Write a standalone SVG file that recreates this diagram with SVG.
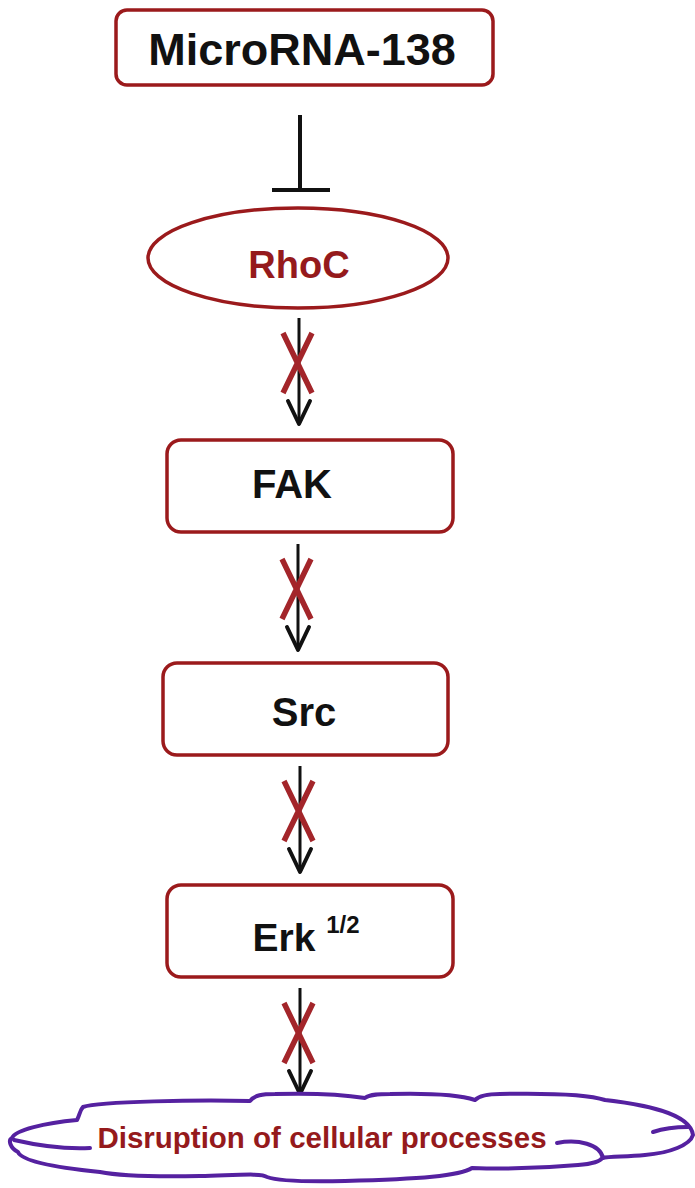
<svg xmlns="http://www.w3.org/2000/svg" width="695" height="1188" viewBox="0 0 695 1188">
  <style>
    .box { fill: #ffffff; stroke: #9b1a1c; stroke-width: 3.5; }
    .lbl { font-family: "Liberation Sans", Arial, sans-serif; font-weight: bold; text-anchor: middle; fill: #111111; }
    .red { fill: #951a1c; }
    .link { stroke: #111111; stroke-width: 3; fill: none; }
    .head { stroke: #111111; stroke-width: 4; fill: none; stroke-linecap: round; stroke-linejoin: round; }
    .cross { stroke: #a3252a; stroke-width: 5.5; fill: none; }
    .cloud { fill: #ffffff; stroke: #5521a0; stroke-width: 4; stroke-linecap: round; stroke-linejoin: round; }
  </style>
  <defs>
    <!-- blocked activation: arrow shaft with a red cross and open arrowhead -->
    <g id="blocked">
      <line class="link" x1="0" y1="0" x2="0" y2="104"/>
      <path class="head" d="M -11,83 L 0,106 L 11,83"/>
      <path class="cross" d="M -16,15 L 13,75 M 13,15 L -16,75"/>
    </g>
  </defs>

  <rect width="695" height="1188" fill="#ffffff"/>

  <g id="connectors">
    <!-- inhibition of RhoC by MicroRNA-138 -->
    <line x1="300" y1="115" x2="300" y2="190" stroke="#111111" stroke-width="4"/>
    <line x1="272" y1="190" x2="330" y2="190" stroke="#111111" stroke-width="4"/>
    <use href="#blocked" x="299" y="318"/>
    <use href="#blocked" x="298" y="544"/>
    <use href="#blocked" x="300" y="766"/>
    <use href="#blocked" x="300" y="988"/>
  </g>

  <g id="microrna138">
    <rect class="box" x="116" y="10" width="377" height="75" rx="11"/>
    <text class="lbl" x="302" y="65" font-size="45">MicroRNA-138</text>
  </g>

  <g id="rhoc">
    <ellipse class="box" cx="298" cy="258" rx="150" ry="50"/>
    <text class="lbl red" x="299" y="278" font-size="38">RhoC</text>
  </g>

  <g id="fak">
    <rect class="box" x="167" y="440" width="286" height="92" rx="14"/>
    <text class="lbl" x="292" y="498" font-size="40">FAK</text>
  </g>

  <g id="src">
    <rect class="box" x="163" y="663" width="285" height="92" rx="14"/>
    <text class="lbl" x="304" y="726" font-size="40">Src</text>
  </g>

  <g id="erk12">
    <rect class="box" x="167" y="885" width="286" height="92" rx="14"/>
    <text class="lbl" x="306" y="951" font-size="39">Erk <tspan font-size="24" dy="-18">1/2</tspan></text>
  </g>

  <g id="disruption">
    <path class="cloud" d="M 83,1107
      C 100,1101 200,1100 250,1101
      C 255,1095 262,1094 275,1094
      C 310,1093 340,1094 365,1098
      C 370,1094 380,1094 390,1094
      C 430,1093 460,1095 475,1100
      C 480,1095 490,1094 500,1094
      C 550,1093 590,1095 605,1100
      C 640,1104 690,1112 693,1135
      C 690,1145 670,1153 645,1155
      C 625,1157 610,1156 602,1158
      C 600,1162 590,1164 578,1165
      C 545,1168 500,1169 472,1168
      C 460,1176 420,1179 345,1181
      C 300,1182 275,1180 267,1177
      C 262,1173 240,1175 200,1176
      C 150,1177 120,1176 100,1172
      C 60,1168 22,1162 18,1152
      C 10,1148 8,1140 12,1138
      C 15,1130 45,1123 77,1120
      C 80,1114 80,1110 83,1107 Z"/>
    <!-- inner strokes of the cloud lobes -->
    <path class="cloud" fill="none" d="M 14,1140 C 40,1146 70,1149 90,1148"/>
    <path class="cloud" fill="none" d="M 557,1143 C 578,1139 600,1144 603,1158"/>
    <path class="cloud" fill="none" d="M 653,1132 C 665,1128 680,1127 688,1127"/>
    <text class="lbl red" x="322" y="1148" font-size="29.5">Disruption of cellular processes</text>
  </g>
</svg>
